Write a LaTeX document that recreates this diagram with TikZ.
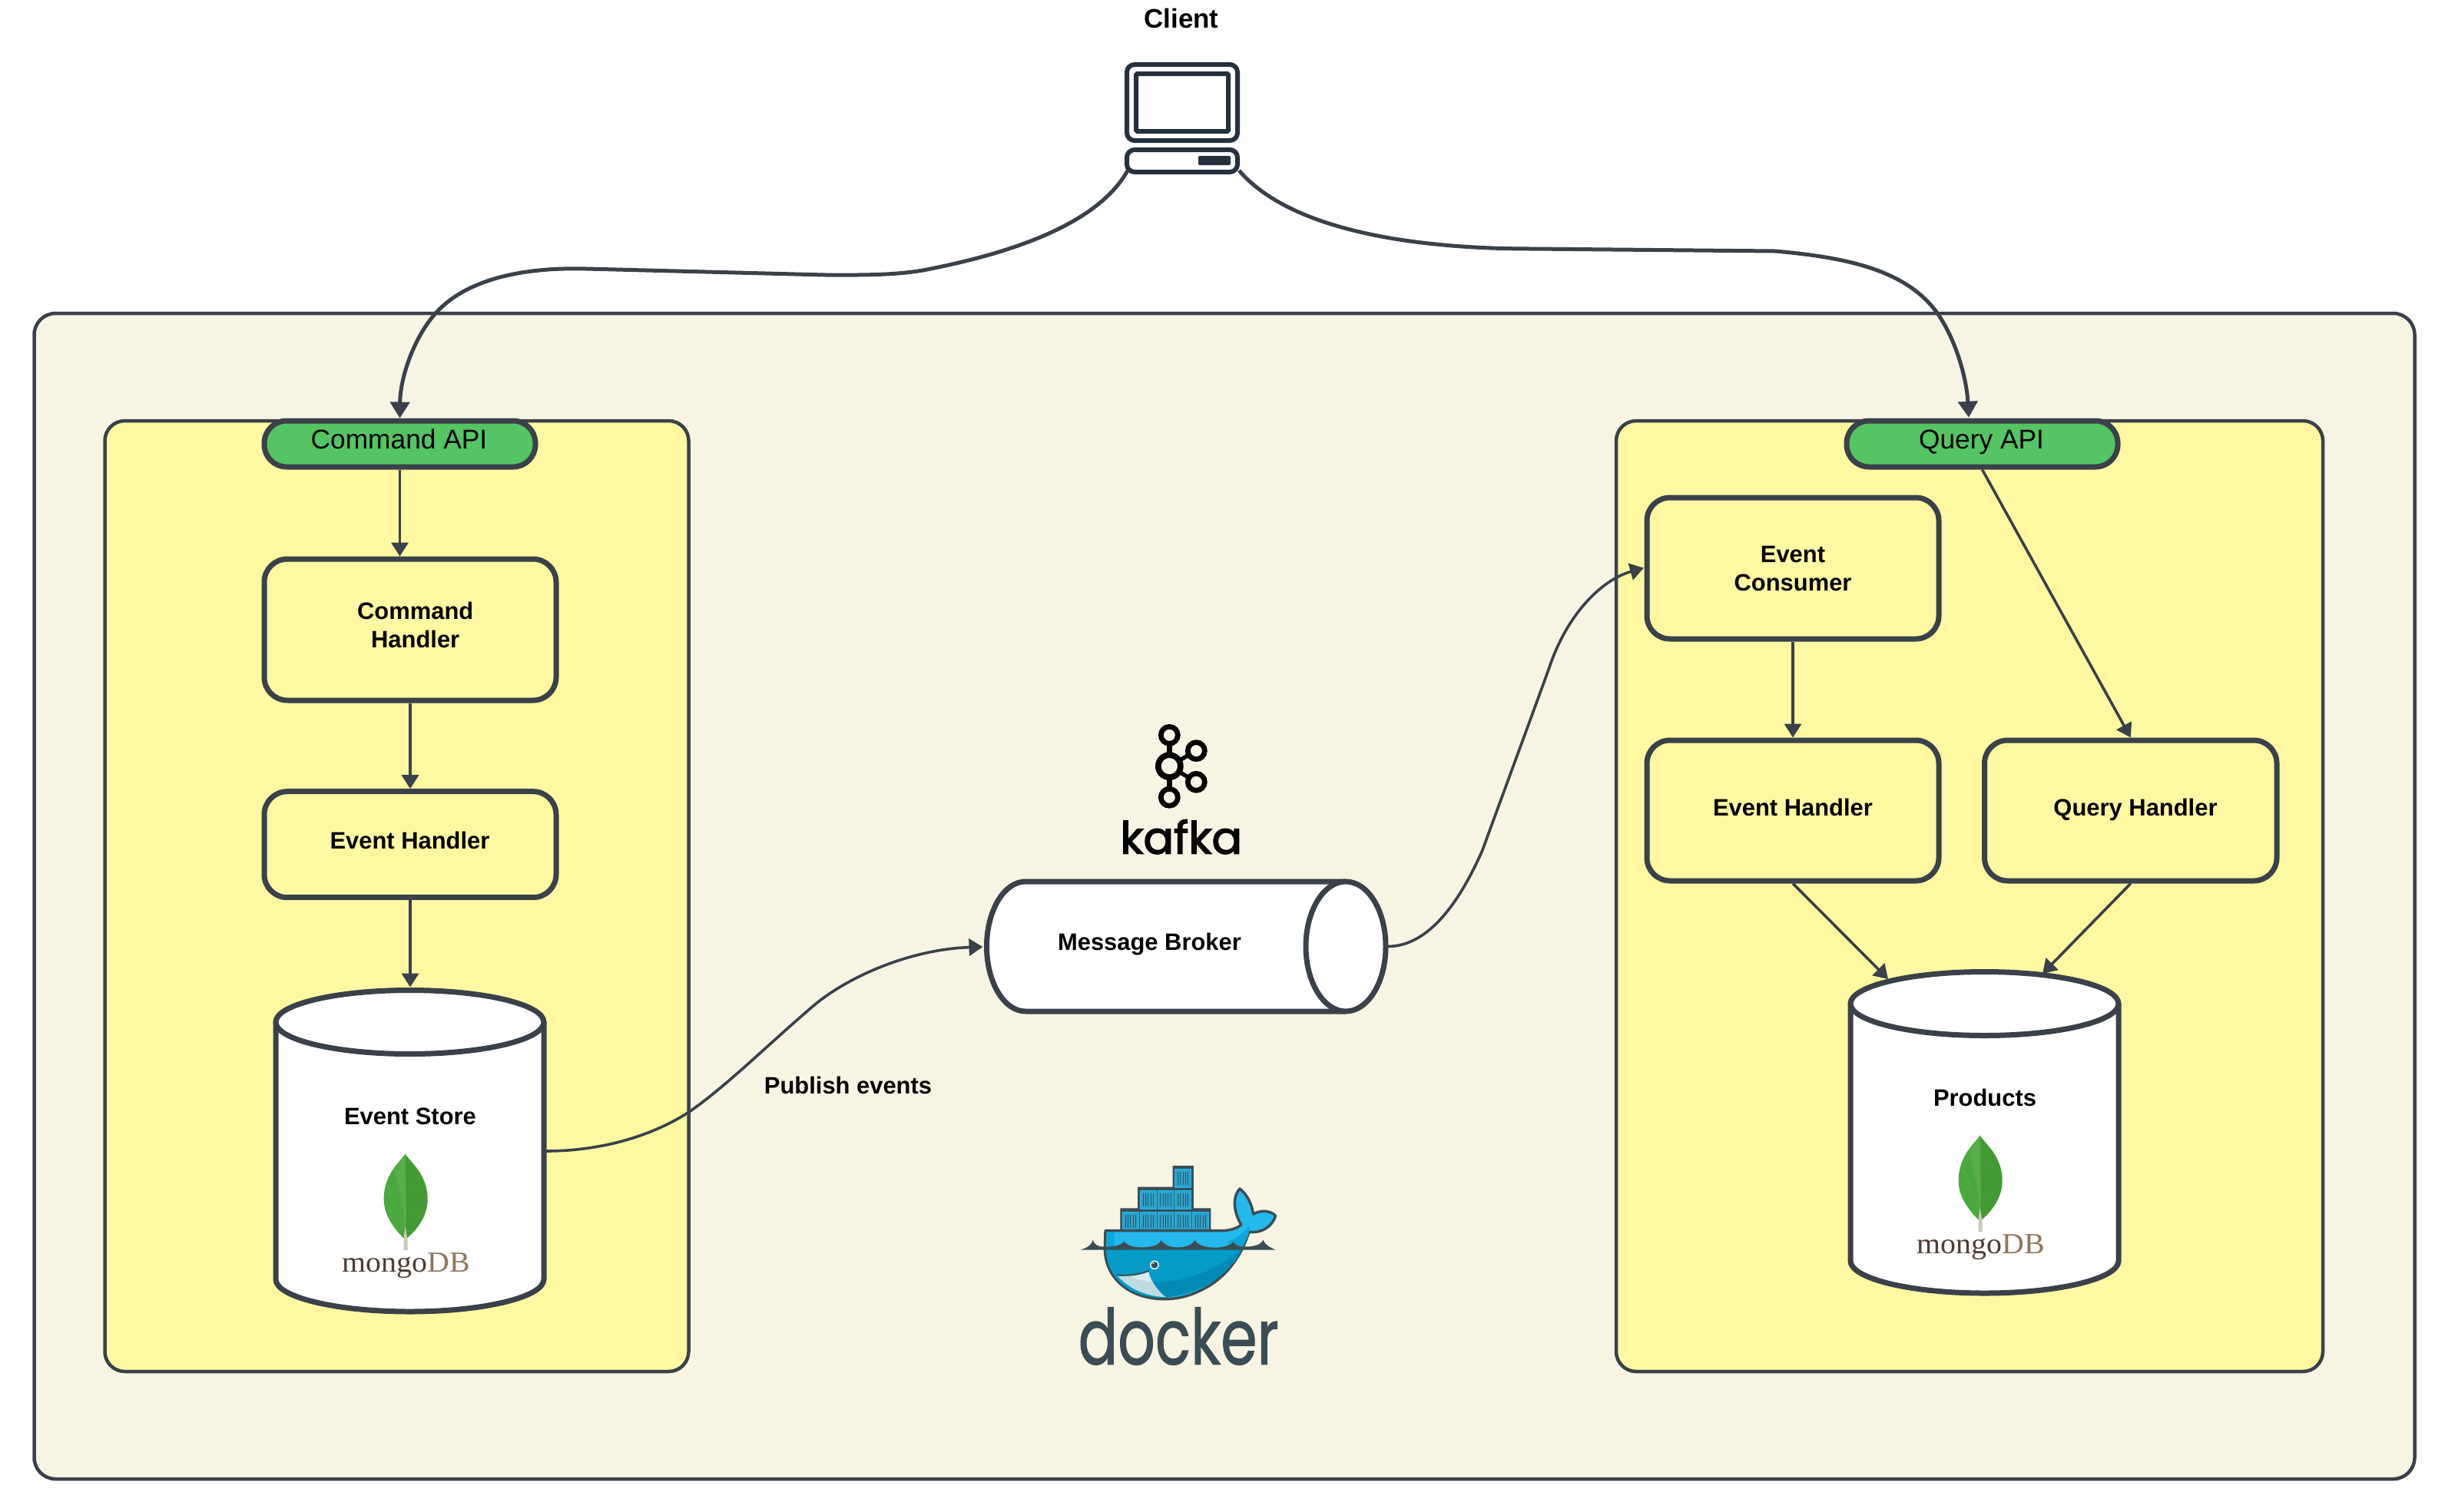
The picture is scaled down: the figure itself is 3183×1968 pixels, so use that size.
\documentclass[tikz,border=0pt]{standalone}
\usepackage{fontspec}
\setmainfont{Liberation Sans}
\newfontfamily\logosans{Poppins}[FakeBold=1.2]
\newfontfamily\kafkasans{Poppins}[FakeBold=2.5]
\newfontfamily\logoserif{Liberation Serif}
\usetikzlibrary{arrows.meta,calc}
\newdimen\px \px=0.02cm
\definecolor{linec}{HTML}{3A414A}
\definecolor{bgc}{HTML}{F7F4E4}
\definecolor{panelc}{HTML}{FFF8A2}
\definecolor{pillc}{HTML}{55C462}
\definecolor{iconc}{HTML}{25303F}
\definecolor{dockd}{HTML}{3A4D54}
\definecolor{dockl}{HTML}{24B8EB}
\definecolor{dockm}{HTML}{049BC6}
\definecolor{dockn}{HTML}{028AB6}
\definecolor{docks}{HTML}{0AA7D8}
\definecolor{cellc}{HTML}{23A6D4}
\tikzset{
  x=\px, y=-\px,
  outerbox/.style={draw=linec,fill=bgc,line width=4.5\px,rectangle,rounded corners=28\px,inner sep=0pt},
  panelbox/.style={draw=linec,fill=panelc,line width=4.5\px,rectangle,rounded corners=26\px,inner sep=0pt},
  pillbox/.style={draw=linec,fill=pillc,line width=7\px,rectangle,rounded corners=29\px,inner sep=0pt},
  stepbox/.style={draw=linec,fill=panelc,line width=7\px,rectangle,rounded corners=30\px,inner sep=0pt},
  anchorbox/.style={rectangle,inner sep=0pt,outer sep=0pt},
  bold/.style={font=\fontsize{17.6}{21.05}\selectfont\bfseries,inner sep=0pt,text=black,anchor=base,align=center},
  plain/.style={font=\fontsize{20.1}{24}\selectfont,inner sep=0pt,text=black,anchor=base},
  bigarrow/.style={draw=linec,line width=5\px,-{Triangle[length=11.95pt,width=14.23pt]}},
  smallarrow/.style={draw=linec,line width=3.6\px,-{Triangle[length=10.24pt,width=12.52pt]}},
  cyl/.style={draw=linec,fill=white,line width=7\px},
  iconline/.style={draw=iconc,line width=6\px},
  ring/.style={draw=black,fill=bgc,line width=6.7\px},
  mongologo/.pic={
    \fill[color={rgb,255:red,75;green,168;blue,62}] (0,0) .. controls (-6,10) and (-28,25) .. (-28,59.5) .. controls (-28,82) and (-12,100) .. (-2,110) -- (0,95) -- cycle;
    \fill[color={rgb,255:red,67;green,154;blue,52}] (0,0) .. controls (4,9) and (29,25) .. (29,59.5) .. controls (29,82) and (14,100) .. (2,110) -- (0,95) -- cycle;
    \fill[color={rgb,255:red,88;green,174;blue,74}] (0,0) .. controls (-4,7) and (-9,12) .. (-14,19) -- (1,84) -- cycle;
    \fill[color={rgb,255:red,201;green,201;blue,180}] (0,95) -- (-2,112) -- (-2,125.5) -- (3,125.5) -- (3,112) -- cycle;
    \draw[color={rgb,255:red,74;green,163;blue,60},line width=.6\px] (1,42) -- (23,40) (1,78) -- (25,75);
    \draw[color={rgb,255:red,92;green,178;blue,78},line width=.6\px] (-24,40) -- (-1,100) (-14,19) -- (0,84);
    \node[anchor=base,inner sep=0pt,xscale=1.05,font=\fontsize{21.6}{26}\logoserif\selectfont] at (1,153.7) {\textcolor[HTML]{4F3D33}{mongo}\textcolor[HTML]{8F775C}{DB}};
  }
}
\begin{document}
\begin{tikzpicture}
\useasboundingbox (0,0) rectangle (3183,1968);
\fill[white] (0,0) rectangle (3183,1968);
% containers
\node[outerbox,minimum width=3099\px,minimum height=1518\px] (outer) at (1594,1167) {};
\node[panelbox,minimum width=760\px,minimum height=1238\px] (leftpanel) at (516.5,1167) {};
\node[panelbox,minimum width=920\px,minimum height=1238\px] (rightpanel) at (2564,1167) {};
% pills
\node[pillbox,minimum width=353\px,minimum height=60\px] (cmdapi) at (520.5,578) {};
\node[pillbox,minimum width=353\px,minimum height=60\px] (qryapi) at (2580.5,578) {};
\node[plain] (cmdapilabel) at (519.5,584) {Command API};
\node[plain] (qryapilabel) at (2579.5,584) {Query API};
% left boxes
\node[stepbox,minimum width=380\px,minimum height=184\px] (cmdh) at (534,820) {};
\node[bold] (cmdhlabel) at (540.7,843.6) {Command\\Handler};
\node[stepbox,minimum width=380\px,minimum height=138\px] (evhl) at (534,1099.7) {};
\node[bold] (evhllabel) at (533.5,1105) {Event Handler};
% right boxes
\node[stepbox,minimum width=380\px,minimum height=184\px] (cons) at (2334,740) {};
\node[bold] (conslabel) at (2334,769.5) {Event\\Consumer};
\node[stepbox,minimum width=380\px,minimum height=183\px] (evhr) at (2334,1055.5) {};
\node[bold] (evhrlabel) at (2334,1062) {Event Handler};
\node[stepbox,minimum width=380.5\px,minimum height=183\px] (qryh) at (2773.75,1055.5) {};
\node[bold] (qryhlabel) at (2780,1062) {Query Handler};
% cylinders
\node[anchorbox,minimum width=356\px,minimum height=426\px] (store) at (533.5,1498.5) {};
\draw[cyl] (359,1331) -- (359,1666) .. controls (359,1689) and (437,1708) .. (533.5,1708) .. controls (630,1708) and (708,1689) .. (708,1666) -- (708,1331);
\draw[cyl] (533.5,1331) ellipse [x radius=174.5,y radius=41.5];
\node[bold] (storelabel) at (534,1464) {Event Store};
\pic at (527.7,1502.5) {mongologo};
\node[anchorbox,minimum width=356\px,minimum height=426\px] (prod) at (2583.5,1474.5) {};
\draw[cyl] (2409,1307) -- (2409,1642) .. controls (2409,1665) and (2487,1684) .. (2583.5,1684) .. controls (2680,1684) and (2758,1665) .. (2758,1642) -- (2758,1307);
\draw[cyl] (2583.5,1307) ellipse [x radius=174.5,y radius=41.5];
\node[bold] (prodlabel) at (2584,1440) {Products};
\pic at (2577.7,1478.5) {mongologo};
% broker
\node[anchorbox,minimum width=527\px,minimum height=176\px] (broker) at (1544,1232.5) {};
\draw[cyl] (1752,1148) -- (1335,1148) .. controls (1307,1148) and (1284.5,1186) .. (1284.5,1232.5) .. controls (1284.5,1279) and (1307,1317) .. (1335,1317) -- (1752,1317);
\draw[cyl] (1752,1232.5) ellipse [x radius=52,y radius=84.5];
\node[bold] (brokerlabel) at (1496.5,1237) {Message Broker};
\node[bold] (publabel) at (1104,1424) {Publish events};
% client
\node[font=\fontsize{19.9}{24}\selectfont\bfseries,inner sep=0pt,anchor=base] (clientlabel) at (1538,36) {Client};
\node[iconline,fill=white,rectangle,rounded corners=10\px,minimum width=144\px,minimum height=99\px,inner sep=0pt] (monitor) at (1539,133.5) {};
\node[iconline,rectangle,rounded corners=1.5\px,minimum width=120\px,minimum height=75\px,inner sep=0pt] (screen) at (1539,133.5) {};
\node[iconline,fill=white,rectangle,rounded corners=10\px,minimum width=144\px,minimum height=29\px,inner sep=0pt] (base) at (1539,209.5) {};
\node[rectangle,fill=iconc,rounded corners=2\px,minimum width=42\px,minimum height=12\px,inner sep=0pt] (button) at (1581,209) {};
% connectors
\coordinate (clientl) at (1468,222);
\coordinate (clientr) at (1613,222);
\coordinate (qrytop) at (2563,543.7);
\coordinate (storeright) at (711,1499);
\coordinate (brokerleft) at (1279.5,1233);
\coordinate (brokerright) at (1807,1232.5);
\coordinate (consleft) at (2140,739.6);
\coordinate (prodl) at (2458,1275);
\coordinate (prodr) at (2659,1268);
\draw[bigarrow] (clientl) .. controls (1425,300) and (1290,335) .. (1201.5,352) .. controls (1160,359) and (1115,358) .. (1074,358) -- (763,350) .. controls (690,348) and (610,360) .. (567,408) .. controls (540,438) and (521,490) .. (cmdapi.north);
\draw[bigarrow] (clientr) .. controls (1680,300) and (1840,324) .. (1995,324) -- (2311,327) .. controls (2400,335) and (2480,350) .. (2521.5,407) .. controls (2545,440) and (2560,490) .. (qrytop);
\draw[smallarrow] (cmdapi.south) -- (cmdapi.south |- cmdh.north);
\draw[smallarrow] (cmdh.south) -- (evhl.north);
\draw[smallarrow] (evhl.south) -- (evhl.south |- store.north);
\draw[smallarrow] (cons.south) -- (evhr.north);
\draw[smallarrow] (qryapi.south) -- (qryh.north);
\draw[smallarrow] (evhr.south) -- (prodl);
\draw[smallarrow] (qryh.south) -- (prodr);
\draw[smallarrow] (storeright) .. controls (770,1499) and (840,1485) .. (897,1448) .. controls (945,1415) and (1000,1360) .. (1061,1308) .. controls (1110,1268) and (1190,1236) .. (brokerleft);
\draw[smallarrow] (brokerright) .. controls (1860,1232) and (1900,1175) .. (1930,1107) .. controls (1947,1060) and (1995,930) .. (2017,869) .. controls (2040,800) and (2085,755) .. (consleft);
% kafka
\begin{scope}[shift={(1420,920)},x=.3333\px,y=-.3333\px]
\draw[black,line width=6.7\px] (307,112) -- (307,355);
\draw[black,line width=5.3\px] (307,233) -- (412,173) (307,233) -- (412,295);
\draw[ring] (307,112) circle [radius=33];
\draw[ring] (307,355) circle [radius=33];
\draw[ring] (412,173) circle [radius=33];
\draw[ring] (412,295) circle [radius=33];
\draw[ring,line width=7.7\px] (307,233) circle [radius=43.5];
\node[inner sep=0pt,anchor=base,xscale=1.01,font=\fontsize{33}{40}\kafkasans\selectfont] (kafkaword) at (353,575) {kafka};
\end{scope}
% docker
\begin{scope}[shift={(1340,1480)},x=.3333\px,y=-.3333\px]
\fill[dockd] (355,372) -- (355,280) -- (423,280) -- (423,197) -- (560,197) -- (560,114) -- (642,114) -- (642,280) -- (709,280) -- (709,372) -- cycle;
\foreach \cx/\cy in {570/128,434/212,502/212,570/212,365/295,434/295,502/295,570/295,638/295}{
  \fill[cellc] (\cx,\cy) rectangle ++(62,71);
  \draw[dockl,line width=1\px] (\cx,\cy) rectangle ++(62,71);
  \foreach \sx in {10,20,30,40,50}{\draw[dockd,line width=.6\px] (\cx+\sx,\cy+10) -- (\cx+\sx,\cy+61);}
}
\draw[dockd,fill=dockl,line width=3.4\px,line join=round] (297,368) -- (750,368) .. controls (790,368) and (815,355) .. (828,345) .. controls (800,300) and (790,240) .. (822,204) .. controls (855,230) and (870,270) .. (875,303) .. controls (905,285) and (945,290) .. (962,310) .. controls (945,360) and (900,378) .. (858,373) .. controls (835,445) and (790,530) .. (700,585) .. controls (640,620) and (590,633) .. (540,635) .. controls (400,640) and (297,560) .. (295,440) -- cycle;
\fill[docks] (860,345) .. controls (830,390) and (790,405) .. (770,415) -- (833,432) .. controls (845,410) and (855,390) .. (858,373) -- cycle;
\fill[docks] (305,372) -- (332,372) -- (332,432) -- (302,432) -- cycle;
\fill[dockm] (300,440) -- (830,440) .. controls (790,530) and (700,585) .. (535,629) .. controls (400,635) and (302,560) .. (300,440) -- cycle;
\fill[dockn] (828,440) .. controls (740,520) and (600,575) .. (480,568) .. controls (495,595) and (515,615) .. (535,629) .. controls (690,610) and (790,530) .. (828,440) -- cycle;
\fill[color={rgb,255:red,191;green,219;blue,224}] (345,545) .. controls (400,548) and (440,535) .. (466,527) .. controls (475,570) and (510,610) .. (532,627) .. controls (450,625) and (385,590) .. (345,545) -- cycle;
\fill[color={rgb,255:red,212;green,237;blue,241}] (400,548) .. controls (425,545) and (450,535) .. (464,530) .. controls (468,545) and (470,555) .. (475,568) .. controls (445,565) and (420,558) .. (400,548) -- cycle;
\draw[dockd,line width=2\px,line cap=round] (345,541) .. controls (400,546) and (440,535) .. (466,525);
\fill[color={rgb,255:red,212;green,237;blue,241}] (489,502) circle [radius=18];
\fill[dockd] (489,502) circle [radius=13];
\fill[white] (484,495) circle [radius=3];
\fill[dockd] (200,443) .. controls (235,432) and (245,418) .. (248,404) .. controls (255,425) and (270,432) .. (297,430) .. controls (330,432) and (360,425) .. (370,410) .. controls (385,430) and (420,434) .. (445,433) .. controls (480,432) and (505,425) .. (515,406) .. controls (530,428) and (560,434) .. (582,433) .. controls (610,432) and (635,425) .. (647,406) .. controls (660,428) and (700,434) .. (725,434) .. controls (760,434) and (785,425) .. (797,412) .. controls (805,425) and (820,432) .. (838,430) .. controls (870,432) and (905,425) .. (913,404) .. controls (920,425) and (945,435) .. (962,443) -- cycle;
\node[inner sep=0pt,anchor=base,xscale=.76,text=dockd,font=\fontsize{57}{68}\logosans\selectfont] (dockerword) at (583,890) {docker};
\end{scope}
\end{tikzpicture}
\end{document}
